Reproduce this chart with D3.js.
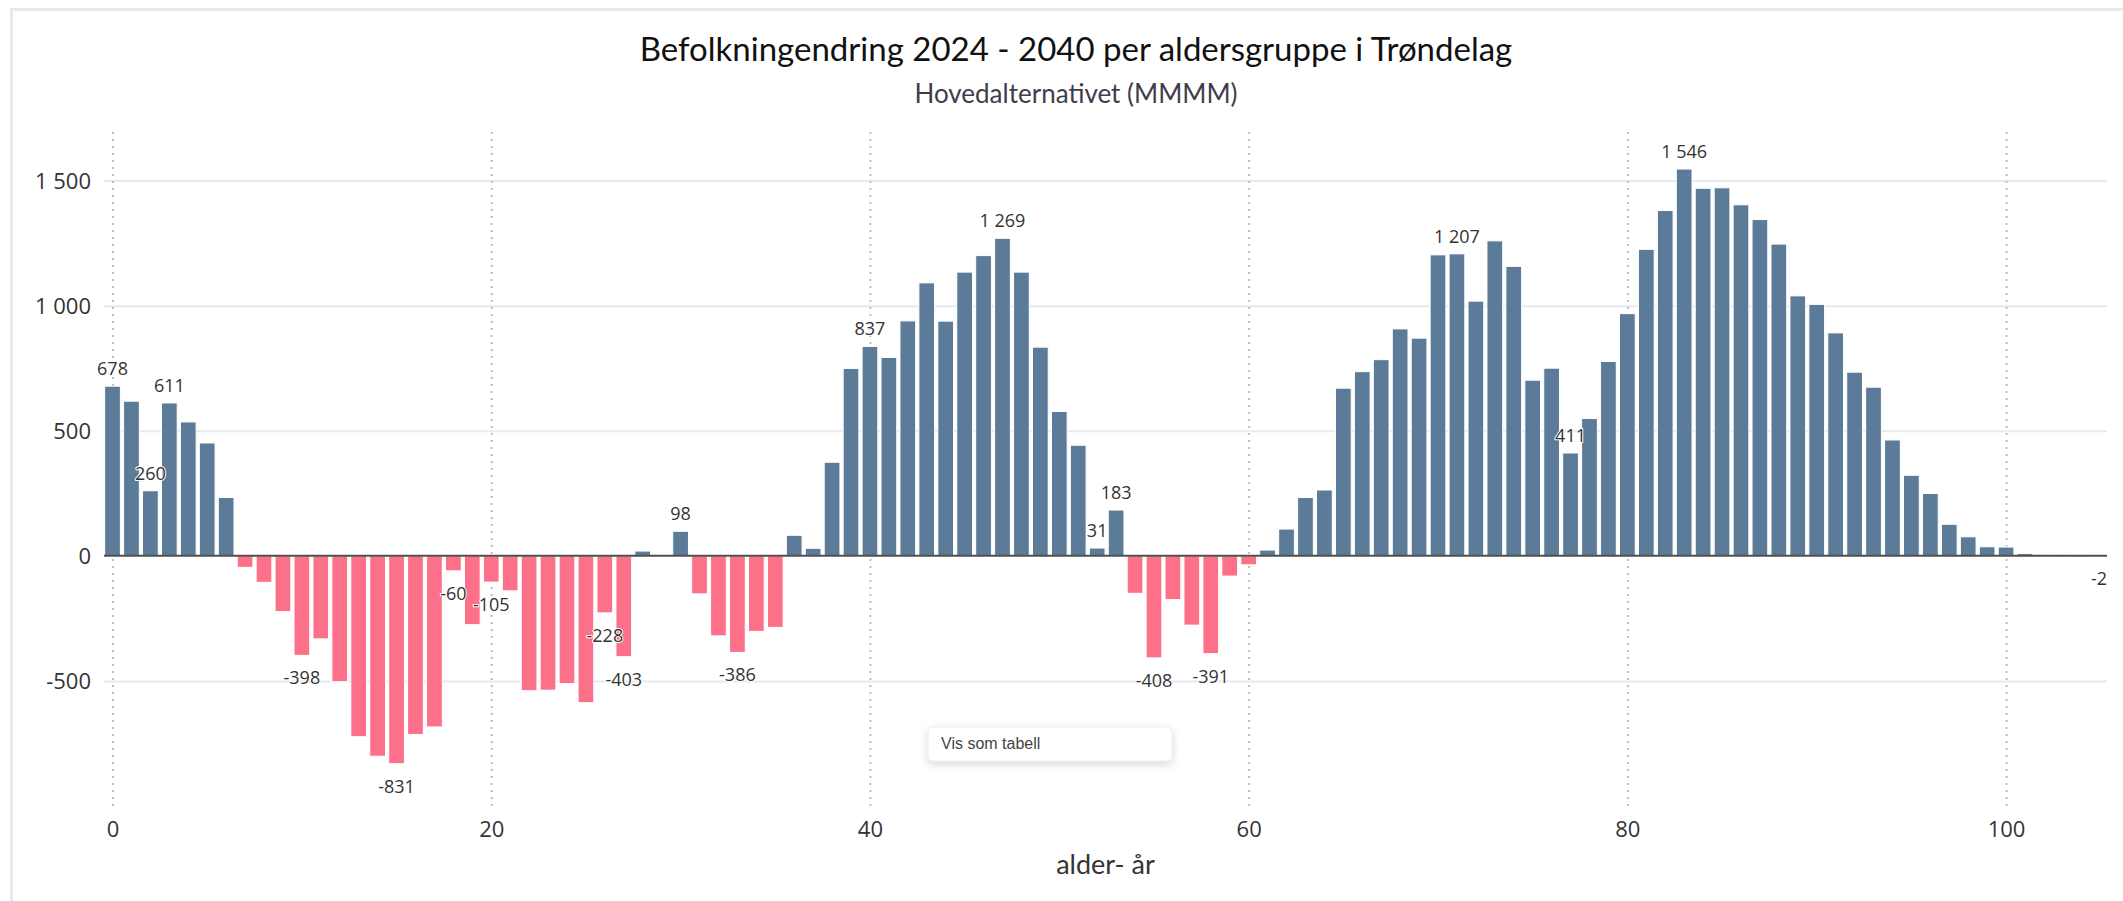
<!DOCTYPE html>
<html lang="no">
<head>
<meta charset="utf-8">
<title>Befolkningendring 2024 - 2040 per aldersgruppe i Trøndelag</title>
<script src="https://cdn.jsdelivr.net/npm/d3@7"></script>
<style>
  html, body { margin: 0; padding: 0; background: #ffffff; }
  svg { display: block; }
</style>
</head>
<body>
<svg id="chart" width="2123" height="901"></svg>
<script>
// Alder (ettårige aldersgrupper) 0–105
const ages = [
  0, 1, 2, 3, 4, 5, 6, 7, 8, 9, 10, 11, 12, 13, 14, 15, 16, 17, 18, 19,
  20, 21, 22, 23, 24, 25, 26, 27, 28, 29, 30, 31, 32, 33, 34, 35, 36, 37, 38, 39,
  40, 41, 42, 43, 44, 45, 46, 47, 48, 49, 50, 51, 52, 53, 54, 55, 56, 57, 58, 59,
  60, 61, 62, 63, 64, 65, 66, 67, 68, 69, 70, 71, 72, 73, 74, 75, 76, 77, 78, 79,
  80, 81, 82, 83, 84, 85, 86, 87, 88, 89, 90, 91, 92, 93, 94, 95, 96, 97, 98, 99,
  100, 101, 102, 103, 104, 105
];

// Endring i antall personer 2024–2040, per alder
const change = [
  678, 618, 260, 611, 535, 451, 233, -46, -106, -223,
  -398, -332, -503, -723, -801, -831, -714, -684, -60, -275,
  -105, -140, -539, -537, -511, -587, -228, -403, 19, -4,
  98, -152, -320, -386, -302, -286, 82, 30, 374, 749,
  837, 793, 939, 1091, 938, 1134, 1200, 1269, 1134, 834,
  577, 442, 31, 183, -150, -408, -175, -277, -391, -81,
  -36, 23, 107, 233, 263, 670, 736, 784, 907, 870,
  1203, 1207, 1018, 1259, 1157, 702, 750, 411, 549, 777,
  968, 1225, 1380, 1546, 1469, 1471, 1403, 1344, 1246, 1039,
  1005, 891, 734, 674, 463, 322, 249, 126, 76, 36,
  35, 9, 5, 3, 2, -2
];

// Aldre som får verdietikett
const labelledAges = [0, 2, 3, 10, 15, 18, 20, 26, 27, 30, 33, 40, 47, 52, 53, 55, 58, 71, 77, 83, 105];

const yTicks = [-500, 0, 500, 1000, 1500];
const xTicks = [0, 20, 40, 60, 80, 100];

const titleText = "Befolkningendring 2024 - 2040 per aldersgruppe i Trøndelag";
const subtitleText = "Hovedalternativet (MMMM)";
const xAxisTitle = "alder- år";
const buttonText = "Vis som tabell";

const data = ages.map((a, i) => ({ age: a, value: change[i] }));

const nb = d3.formatLocale({ decimal: ",", thousands: "\u00a0", grouping: [3], currency: ["", " kr"], minus: "-" });
const fmt = nb.format(",d");

const svg = d3.select("#chart");
const W = 2123, H = 901;

const plot = { left: 104, right: 2107, top: 128, bottom: 806 };

const x = d3.scaleLinear().domain([-0.45, 105.33]).range([plot.left, plot.right]);
const y = d3.scaleLinear().domain([-1000, 1710]).range([plot.bottom, plot.top]);

const POS = "#5b7b99";
const NEG = "#fc7089";

// Kortramme
svg.append("rect")
  .attr("x", 11.5).attr("y", 9.5)
  .attr("width", W + 20).attr("height", H + 20)
  .attr("fill", "#ffffff")
  .attr("stroke", "#e7e9ec").attr("stroke-width", 3);

// Skygge til knappen
const defs = svg.append("defs");
const shadow = defs.append("filter").attr("id", "btnShadow")
  .attr("x", "-20%").attr("y", "-50%").attr("width", "140%").attr("height", "220%");
shadow.append("feDropShadow")
  .attr("dx", 0).attr("dy", 3).attr("stdDeviation", 4)
  .attr("flood-color", "#000").attr("flood-opacity", 0.16);

// Tittel og undertittel
svg.append("text")
  .attr("x", 1076).attr("y", 61)
  .attr("text-anchor", "middle")
  .attr("font-family", "Lato, 'Open Sans', sans-serif")
  .attr("font-size", 33)
  .attr("fill", "#111")
  .text(titleText);

svg.append("text")
  .attr("x", 1076).attr("y", 103)
  .attr("text-anchor", "middle")
  .attr("font-family", "Lato, 'Open Sans', sans-serif")
  .attr("font-size", 26)
  .attr("fill", "#3f3d4a")
  .text(subtitleText);

// Horisontale rutenettlinjer
const yAxis = d3.axisLeft(y).tickValues(yTicks).tickSize(-(plot.right - plot.left)).tickFormat(fmt).tickPadding(13);
const gy = svg.append("g").attr("transform", `translate(${plot.left},0)`).call(yAxis);
gy.select(".domain").remove();
gy.selectAll(".tick line")
  .attr("stroke", "#e6eaf0").attr("stroke-width", 2)
  .filter(d => d === 0).remove();
gy.selectAll(".tick text")
  .attr("font-family", "'Open Sans', sans-serif")
  .attr("font-size", 22)
  .attr("fill", "#333")
  .attr("dy", "0.34em");

// Vertikale prikkede rutenettlinjer
const xAxis = d3.axisBottom(x).tickValues(xTicks).tickSize(-(plot.bottom - plot.top)).tickPadding(0).tickFormat(d3.format("d"));
const gx = svg.append("g").attr("transform", `translate(0,${plot.bottom})`).call(xAxis);
gx.select(".domain").remove();
gx.selectAll(".tick line")
  .attr("stroke", "#bdbdbd").attr("stroke-width", 2)
  .attr("stroke-dasharray", "2,5");
gx.selectAll(".tick text")
  .attr("font-family", "'Open Sans', sans-serif")
  .attr("font-size", 22)
  .attr("fill", "#333")
  .attr("y", 31)
  .attr("dy", 0);

// Søyler
const half = 0.415;
svg.append("g").selectAll("rect")
  .data(data)
  .join("rect")
  .attr("x", d => x(d.age - half))
  .attr("width", d => x(d.age + half) - x(d.age - half))
  .attr("y", d => y(Math.max(0, d.value)))
  .attr("height", d => Math.max(1, Math.abs(y(d.value) - y(0))))
  .attr("fill", d => d.value >= 0 ? POS : NEG)
  .attr("stroke", "#ffffff")
  .attr("stroke-width", 1);

// Nullinje
svg.append("line")
  .attr("x1", plot.left).attr("x2", plot.right)
  .attr("y1", y(0)).attr("y2", y(0))
  .attr("stroke", "#4f4f4f").attr("stroke-width", 2);

// Verdietiketter
const lbl = svg.append("g").selectAll("text")
  .data(data.filter(d => labelledAges.includes(d.age)))
  .join("text")
  .attr("x", d => x(d.age))
  .attr("y", d => d.value >= 0 ? y(d.value) - 11 : y(d.value) + 29)
  .attr("text-anchor", "middle")
  .attr("font-family", "'Open Sans', sans-serif")
  .attr("font-size", 18)
  .attr("fill", "#333")
  .attr("stroke", "#ffffff").attr("stroke-width", 2)
  .attr("paint-order", "stroke")
  .attr("stroke-linejoin", "round")
  .text(d => fmt(d.value));

// Etiketter som går utenfor plottet skyves inn
lbl.each(function () {
  const b = this.getBBox();
  if (b.x + b.width > plot.right) {
    d3.select(this).attr("text-anchor", "end").attr("x", plot.right);
  }
});

// Aksetittel
svg.append("text")
  .attr("x", (plot.left + plot.right) / 2).attr("y", 874)
  .attr("text-anchor", "middle")
  .attr("font-family", "Lato, 'Open Sans', sans-serif")
  .attr("font-size", 27)
  .attr("fill", "#333")
  .text(xAxisTitle);

// Knapp «Vis som tabell»
const btn = svg.append("g").attr("transform", "translate(928,727)");
btn.append("rect")
  .attr("width", 244).attr("height", 34).attr("rx", 5)
  .attr("fill", "#ffffff")
  .attr("stroke", "#ececec")
  .attr("filter", "url(#btnShadow)");
btn.append("text")
  .attr("x", 13).attr("y", 21.5)
  .attr("font-family", "'Liberation Sans', Arial, sans-serif")
  .attr("font-size", 16)
  .attr("fill", "#444")
  .text(buttonText);
</script>
</body>
</html>
